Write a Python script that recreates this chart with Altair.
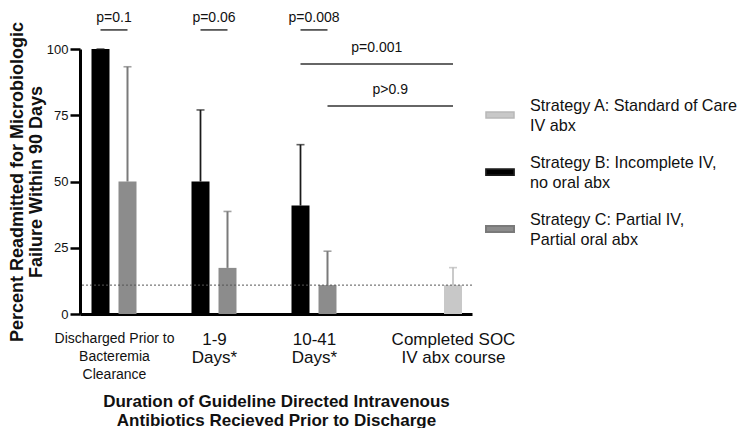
import json
from collections import Counter

import altair as alt
import pandas as pd

# ---------------- data ----------------
groups = [
    "Discharged Prior to\nBacteremia\nClearance",
    "1-9\nDays*",
    "10-41\nDays*",
    "Completed SOC\nIV abx course",
]
strategies = [
    "Strategy A: Standard of Care\nIV abx",
    "Strategy  B: Incomplete IV,\nno oral abx",
    "Strategy  C: Partial IV,\nPartial oral abx",
]
strategy_colors = ["#c8c8c8", "#000000", "#8c8c8c"]
error_colors = ["#b8b8b8", "#1a1a1a", "#7a7a7a"]
error_widths = [1.5, 2, 1.5]

bar_group = [0, 0, 1, 1, 2, 2, 3]
bar_strategy = [1, 2, 1, 2, 1, 2, 0]
bar_value = [100, 50, 50, 17.4, 40.9, 10.9, 10.9]
bar_upper = [100, 93.3, 77, 38.7, 63.9, 23.7, 17.5]

reference_rate = [10.9]

p_labels = ["p=0.1", "p=0.06", "p=0.008", "p=0.001", "p>0.9"]
p_from = [0, 2, 4, 4, 5]          # bar index where bracket starts
p_to = [1, 3, 5, 6, 6]            # bar index where bracket ends
p_line_level = [107.2, 107.2, 107.2, 94.3, 78.5]
p_text_level = [111.7, 111.7, 111.7, 100.4, 84.5]

y_ticks = [0, 25, 50, 75, 100]

x_title = ["Duration of Guideline Directed Intravenous",
           "Antibiotics Recieved Prior to Discharge"]
y_title = ["Percent Readmitted for Microbiologic",
           "Failure Within 90 Days"]

# ---------------- layout ----------------
GROUP_X = [0, 1, 2, 3.39]
PAIR_OFFSET = 0.135
FONT = "Liberation Sans"

counts = Counter(bar_group)
seen = Counter()
bar_x = []
for g in bar_group:
    n, k = counts[g], seen[g]
    seen[g] += 1
    bar_x.append(GROUP_X[g] + (k - (n - 1) / 2) * 2 * PAIR_OFFSET)

bars = pd.DataFrame({
    "x": bar_x,
    "value": bar_value,
    "upper": bar_upper,
    "strategy": [strategies[s] for s in bar_strategy],
})

brackets = pd.DataFrame({
    "x1": [bar_x[i] for i in p_from],
    "x2": [bar_x[i] for i in p_to],
    "line": p_line_level,
    "ty": p_text_level,
    "label": p_labels,
})
brackets["xm"] = (brackets["x1"] + brackets["x2"]) / 2

label_lines = [g.split("\n") for g in groups]
x_label_expr = f"{json.dumps(label_lines)}[indexof({json.dumps(GROUP_X)}, datum.value)]"

X_SCALE = alt.Scale(domain=[-0.34, 3.58], nice=False, zero=False, padding=0)
Y_SCALE = alt.Scale(domain=[0, 100], nice=False, zero=True)

X_AXIS = alt.Axis(
    values=GROUP_X, labelExpr=x_label_expr, ticks=False, tickSize=0, grid=False,
    domainColor="black", domainWidth=3, labelColor="#111", labelFont=FONT,
    labelFontSize={"condition": {"test": "datum.value < 0.5", "value": 14}, "value": 17},
    labelLineHeight=18, labelPadding=17, labelFlush=False, labelOverlap=False,
    labelBound=False, labelAngle=0, labelLimit=300,
    titleFont=FONT, titleFontSize=17, titleFontWeight="bold", titleColor="#111",
    titleLineHeight=19, titleBaseline="top", titleY=79,
)
Y_AXIS = alt.Axis(
    values=y_ticks, grid=False, domainColor="black", domainWidth=3,
    tickColor="black", tickSize=10, tickWidth=2.5, labelPadding=2,
    labelFont=FONT, labelFontSize=13, labelColor="#111",
    titleFont=FONT, titleFontSize=18, titleFontWeight="bold", titleColor="#111",
    titleLineHeight=19, titleBaseline="top", titleX=-72,
)


def xq(field):
    return alt.X(field, type="quantitative", scale=X_SCALE, axis=X_AXIS, title=x_title)


def yq(field):
    return alt.Y(field, type="quantitative", scale=Y_SCALE, axis=Y_AXIS, title=y_title)


legend = alt.Legend(
    title=None, orient="none", legendX=405, legendY=42, padding=0,
    symbolType="M-1,0.43H1V0.86H-1Z", symbolSize=784, symbolStrokeWidth=0,
    symbolOpacity=1, labelFont=FONT, labelFontSize=16.2, labelColor="#111",
    labelOffset=15, labelLimit=400, rowPadding=13,
    labelExpr="split(datum.label, '\\n')",
)

bar_layer = alt.Chart(bars).mark_bar(size=18).encode(
    x=xq("x"), y=yq("value"),
    color=alt.Color("strategy:N", scale=alt.Scale(domain=strategies, range=strategy_colors),
                    legend=legend),
)

ref_layer = alt.Chart(pd.DataFrame({"y": reference_rate})).mark_rule(
    strokeDash=[2, 2], strokeWidth=1, color="#555"
).encode(y=yq("y"))

err_layer = alt.Chart(bars).mark_rule().encode(
    x=xq("x"), y=yq("value"), y2="upper",
    stroke=alt.Stroke("strategy:N", scale=alt.Scale(domain=strategies, range=error_colors),
                      legend=None),
    strokeWidth=alt.StrokeWidth("strategy:N",
                                scale=alt.Scale(domain=strategies, range=error_widths),
                                legend=None),
)

cap_layer = alt.Chart(bars).mark_tick(orient="horizontal", size=8, thickness=1.6).encode(
    x=xq("x"), y=yq("upper"),
    fill=alt.Fill("strategy:N", scale=alt.Scale(domain=strategies, range=error_colors),
                  legend=None),
)

bracket_layer = alt.Chart(brackets).mark_rule(color="#333", strokeWidth=1.5).encode(
    x=xq("x1"), x2="x2", y=yq("line"),
)

text_layer = alt.Chart(brackets).mark_text(
    font=FONT, fontSize=14, color="#111", baseline="middle", align="center"
).encode(x=xq("xm"), y=yq("ty"), text="label:N")

chart = alt.layer(
    bar_layer, ref_layer, err_layer, cap_layer, bracket_layer, text_layer
).properties(
    width=392, height=265,
    autosize=alt.AutoSizeParams(type="none"),
    padding={"left": 72, "top": 41, "right": 270, "bottom": 114},
    background="white",
).configure(
    font=FONT,
    style={"guide-label": {"lineHeight": 20}},
).configure_view(stroke=None)

chart.save("out.html", embed_options={"renderer": "svg", "actions": False})
